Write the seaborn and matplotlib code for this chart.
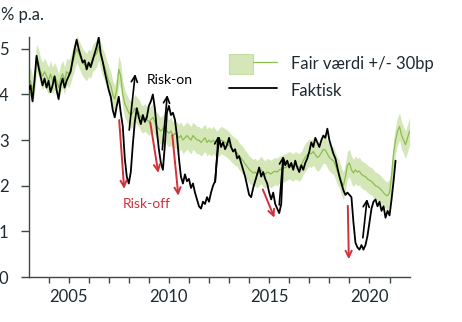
import numpy as np
import pandas as pd
import matplotlib
matplotlib.use("Agg")
import matplotlib.pyplot as plt
import seaborn as sns
from matplotlib.patches import Patch
from matplotlib.lines import Line2D
from matplotlib.legend_handler import HandlerTuple

# ---------------- data ----------------
start_year = 2003.0
step = 0.1

fair_values = [
    4.2, 4.3, 4.1, 4.3, 4.8, 4.7, 4.5, 4.4, 4.5, 4.4,
    4.3, 4.45, 4.3, 4.4, 4.3, 4.15, 4.35, 4.45, 4.3, 4.5,
    4.45, 4.55, 4.7, 4.85, 5.0, 4.9, 4.8, 4.7, 4.65, 4.6,
    4.7, 4.65, 4.8, 4.85, 4.9, 5.05, 4.85, 4.7, 4.6, 4.45,
    4.3, 4.2, 4.0, 3.9, 4.1, 4.55, 4.4, 4.0, 3.8, 3.7,
    3.6, 3.55, 3.6, 3.7, 3.65, 3.6, 3.5, 3.45, 3.5, 3.45,
    3.4, 3.45, 3.5, 3.4, 3.3, 3.25, 3.2, 3.25, 3.3, 3.2,
    3.15, 3.2, 3.1, 3.15, 3.1, 3.05, 3.1, 3.0, 3.05, 3.1,
    3.05, 3.0, 3.1, 3.05, 3.0, 3.0, 2.95, 3.0, 3.05, 2.95,
    3.0, 2.95, 3.0, 2.95, 2.9, 2.95, 3.0, 2.98, 2.95, 2.92,
    2.88, 2.83, 2.78, 2.75, 2.72, 2.65, 2.6, 2.55, 2.48, 2.42,
    2.36, 2.32, 2.28, 2.3, 2.25, 2.3, 2.35, 2.28, 2.25, 2.3,
    2.28, 2.26, 2.3, 2.32, 2.3, 2.35, 2.36, 2.38, 2.4, 2.42,
    2.45, 2.42, 2.4, 2.45, 2.42, 2.4, 2.45, 2.55, 2.62, 2.68,
    2.72, 2.7, 2.75, 2.68, 2.62, 2.65, 2.72, 2.8, 2.78, 2.7,
    2.62, 2.58, 2.55, 2.45, 2.32, 2.25, 2.1, 2.0, 2.2, 2.45,
    2.5, 2.35, 2.28, 2.35, 2.3, 2.32, 2.25, 2.22, 2.2, 2.15,
    2.12, 2.1, 2.05, 2.0, 1.98, 1.95, 1.9, 1.85, 1.8, 1.78,
    1.85, 2.2, 2.7, 3.0, 3.2, 3.3, 3.1, 3.0, 2.9, 3.05,
    3.2,
]

actual_values = [
    4.1, 4.2, 3.85, 4.3, 4.85, 4.6, 4.4, 4.2, 4.35, 4.15,
    4.3, 4.05, 4.2, 4.4, 4.1, 3.9, 4.2, 4.35, 4.15, 4.3,
    4.4, 4.5, 4.75, 5.0, 5.2, 5.0, 4.85, 4.7, 4.75, 4.55,
    4.7, 4.6, 4.75, 4.9, 5.05, 5.25, 4.9, 4.72, 4.5, 4.3,
    4.1, 3.95, 3.66, 3.5, 3.75, 3.95, 3.6, 3.3, 2.6, 2.2,
    2.05, 2.3, 2.9, 3.4, 3.7, 3.5, 3.35, 3.55, 3.4, 3.5,
    3.75, 3.85, 4.0, 3.7, 3.2, 2.8, 2.5, 2.35, 2.9, 3.6,
    3.75, 3.55, 3.6, 3.45, 3.1, 2.6, 2.2, 2.05, 2.25, 2.1,
    2.15, 1.95, 2.05, 1.85, 1.7, 1.55, 1.5, 1.65, 1.6, 1.75,
    1.65, 1.85, 2.0, 2.1, 2.6, 3.05, 2.85, 2.95, 2.8, 2.9,
    3.05, 2.85, 2.75, 2.8, 2.6, 2.65, 2.5, 2.35, 2.2, 2.0,
    1.8, 1.75, 1.95, 2.1, 2.25, 2.4, 2.2, 2.3, 2.15, 2.05,
    1.85, 1.7, 1.85, 1.6, 1.5, 1.4, 1.6, 2.6, 2.45, 2.55,
    2.4, 2.5, 2.35, 2.55, 2.4, 2.3, 2.45, 2.35, 2.5, 2.6,
    2.75, 2.95, 2.85, 3.05, 2.95, 2.85, 3.0, 3.1, 3.05, 3.25,
    3.0, 2.85, 2.7, 2.6, 2.4, 2.2, 2.05, 1.9, 1.8, 1.85,
    1.8, 1.75, 1.2, 0.75, 0.65, 0.6, 0.7, 0.6, 0.7, 0.9,
    1.2, 1.5, 1.65, 1.7, 1.55, 1.65, 1.45, 1.55, 1.3, 1.45,
    1.35, 1.7, 2.1, 2.55,
]

band_halfwidth = 0.30  # +/- 30bp

# arrows: (start (year, value), end (year, value))
risk_on_arrows = [
    ((2008.02, 3.22), (2008.32, 4.45)),
    ((2009.67, 2.79), (2009.92, 3.99)),
    ((2012.31, 2.08), (2012.46, 3.09)),
    ((2015.50, 1.58), (2015.70, 2.65)),
    ((2019.67, 0.86), (2019.88, 1.71)),
]
risk_off_arrows = [
    ((2007.52, 3.44), (2007.77, 1.93)),
    ((2009.07, 3.39), (2009.47, 2.28)),
    ((2010.17, 3.11), (2010.47, 1.78)),
    ((2014.68, 1.92), (2015.26, 1.30)),
    ((2018.92, 1.56), (2018.97, 0.39)),
]

x_ticks = list(range(2004, 2022))
x_labelled = [2005, 2010, 2015, 2020]
y_ticks = [0, 1, 2, 3, 4, 5]

legend_labels = ["Fair værdi +/- 30bp", "Faktisk"]

# ---------------- frames ----------------
fair_df = pd.DataFrame({
    "date": start_year + step * np.arange(len(fair_values)),
    "fair": fair_values,
})
fair_df["low"] = fair_df["fair"] - band_halfwidth
fair_df["high"] = fair_df["fair"] + band_halfwidth
actual_df = pd.DataFrame({
    "date": start_year + step * np.arange(len(actual_values)),
    "actual": actual_values,
})

# ---------------- style ----------------
sns.set_style("ticks")
plt.rcParams["font.family"] = ["Lato", "DejaVu Sans"]

band_c = "#d5e7b9"
band_edge = "#c6dda4"
green_c = "#8dbd4e"
red_c = "#d2303b"
spine_c = "#3d4a42"
text_c = "#1e2a30"

fig = plt.figure(figsize=(4.62, 3.22), dpi=100)
ax = fig.add_axes([28.5 / 462, 45 / 322, (410 - 28.5) / 462, (277 - 37) / 322])

ax.fill_between(fair_df["date"], fair_df["low"], fair_df["high"],
                color=band_c, lw=0, zorder=1)
sns.lineplot(data=fair_df, x="date", y="fair", color=green_c, lw=0.9,
             estimator=None, ax=ax, zorder=2)
sns.lineplot(data=actual_df, x="date", y="actual", color="black", lw=1.3,
             estimator=None, ax=ax, zorder=3)

for (s, e) in risk_on_arrows:
    ax.annotate("", xy=e, xytext=s,
                arrowprops=dict(arrowstyle="->,head_length=0.45,head_width=0.22",
                                color="black", lw=1.2, shrinkA=0, shrinkB=0),
                zorder=4)
for (s, e) in risk_off_arrows:
    ax.annotate("", xy=e, xytext=s,
                arrowprops=dict(arrowstyle="->,head_length=0.45,head_width=0.22",
                                color=red_c, lw=1.4, shrinkA=0, shrinkB=0),
                zorder=4)

ax.text(2010.02, 4.32, "Risk-on", ha="center", va="center", fontsize=10,
        color="black")
ax.text(2008.9, 1.60, "Risk-off", ha="center", va="center", fontsize=10,
        color=red_c)

ax.set_xlim(2003.0, 2022.02)
ax.set_ylim(0, 5.26)
ax.set_xticks(x_ticks)
ax.set_xticklabels([str(t) if t in x_labelled else "" for t in x_ticks])
ax.set_yticks(y_ticks)
ax.set_yticklabels([str(t) for t in y_ticks])
ax.set_xlabel("")
ax.set_ylabel("")

for side in ("top", "right"):
    ax.spines[side].set_visible(False)
for side in ("left", "bottom"):
    ax.spines[side].set_color(spine_c)
    ax.spines[side].set_linewidth(1.0)

ax.tick_params(axis="x", length=4, width=1.0, color=spine_c, pad=5,
               labelsize=12, labelcolor=text_c)
ax.tick_params(axis="y", length=5.8, width=1.0, color=spine_c, pad=8.6,
               labelsize=12, labelcolor=text_c)

fig.text(1 / 462, 1 - 15 / 322, "% p.a.", ha="left", va="center",
         fontsize=12, color=text_c)

handles = [
    (Patch(facecolor=band_c, edgecolor=band_edge, lw=0.8),
     Line2D([], [], color=green_c, lw=0.9)),
    Line2D([], [], color="black", lw=1.3),
]
fig.legend(handles, legend_labels,
           handler_map={tuple: HandlerTuple(ndivide=None, pad=0)},
           loc="upper left", bbox_to_anchor=(229 / 462, 1 - 54 / 322),
           frameon=False, fontsize=12, handlelength=2.87, handleheight=1.45,
           handletextpad=0.84, labelspacing=0.42, borderpad=0,
           borderaxespad=0, labelcolor=text_c)

fig.savefig("out.png", dpi=100)
